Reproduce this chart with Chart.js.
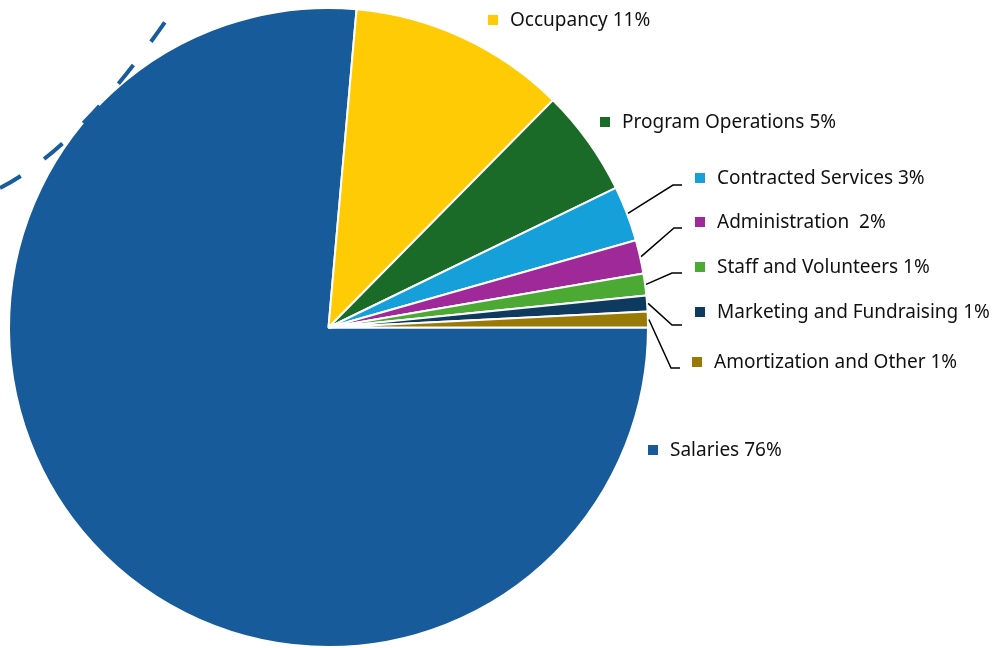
<!DOCTYPE html>
<html lang="en">
<head>
  <meta charset="UTF-8">
  <title>Expenses</title>
  <script src="https://cdn.jsdelivr.net/npm/chart.js"></script>
  <style>
    * { margin: 0; padding: 0; box-sizing: border-box; }
    body { background: #fff; }
    .chart-container { width: 998px; height: 648px; position: relative; }
  </style>
</head>
<body>
  <div class="chart-container">
    <canvas id="expenseChart"></canvas>
  </div>

<script>
  const categories = ['Salaries', 'Occupancy', 'Program Operations', 'Contracted Services',
    'Administration ', 'Staff and Volunteers', 'Marketing and Fundraising', 'Amortization and Other'];
  const shares = [76.4, 11.0, 5.4, 2.8, 1.7, 1.1, 0.8, 0.8];
  const colors = ['#175b9b', '#fecb05', '#1b6b28', '#15a0da', '#a0299a', '#4caa34', '#0f3a60', '#9a7a06'];

  // where each label sits (marker left x, text middle y), plus leader elbow for the small slices
  const labelLayout = [
    { mx: 648, y: 450 },
    { mx: 488, y: 20 },
    { mx: 600, y: 122 },
    { mx: 695, y: 178, elbow: [673, 185], end: 682 },
    { mx: 695, y: 222, elbow: [674, 228], end: 682 },
    { mx: 695, y: 267, elbow: [672, 273], end: 682 },
    { mx: 695, y: 312, elbow: [672, 325], end: 682 },
    { mx: 692, y: 362, elbow: [671, 368], end: 680 }
  ];

  const labelPlugin = {
    id: 'sliceLabels',
    afterDraw(chart) {
      const ctx = chart.ctx;
      const arcs = chart.getDatasetMeta(0).data;
      ctx.save();

      // dashed outline fragment at top left
      ctx.strokeStyle = '#1a5c9a';
      ctx.lineWidth = 4;
      ctx.setLineDash([24, 29]);
      ctx.beginPath();
      ctx.moveTo(0, 188);
      ctx.quadraticCurveTo(79, 148, 172, 12);
      ctx.stroke();
      ctx.setLineDash([]);

      ctx.font = '19px "Noto Sans", sans-serif';
      ctx.textBaseline = 'middle';
      arcs.forEach((arc, i) => {
        const lay = labelLayout[i];
        const p = arc.getProps(['x', 'y', 'startAngle', 'endAngle', 'outerRadius'], true);
        if (lay.elbow) {
          const mid = (p.startAngle + p.endAngle) / 2;
          ctx.strokeStyle = '#000';
          ctx.lineWidth = 1.5;
          ctx.beginPath();
          ctx.moveTo(p.x + Math.cos(mid) * (p.outerRadius + 1), p.y + Math.sin(mid) * (p.outerRadius + 1));
          ctx.lineTo(lay.elbow[0], lay.elbow[1]);
          ctx.lineTo(lay.end, lay.elbow[1]);
          ctx.stroke();
        }
        ctx.fillStyle = colors[i];
        ctx.fillRect(lay.mx, lay.y - 5, 10, 10);
        ctx.fillStyle = '#111';
        ctx.fillText(categories[i] + ' ' + Math.round(shares[i]) + '%', lay.mx + 22, lay.y + 1);
      });
      ctx.restore();
    }
  };

  new Chart(document.getElementById('expenseChart'), {
    type: 'pie',
    data: {
      labels: categories,
      datasets: [{
        data: shares,
        backgroundColor: colors,
        borderColor: '#ffffff',
        borderWidth: 2
      }]
    },
    options: {
      responsive: true,
      maintainAspectRatio: false,
      animation: false,
      rotation: 90,
      layout: { padding: { left: 8, top: 7, right: 349, bottom: 0 } },
      plugins: { legend: { display: false }, tooltip: { enabled: false } }
    },
    plugins: [labelPlugin]
  });
</script>
</body>
</html>
